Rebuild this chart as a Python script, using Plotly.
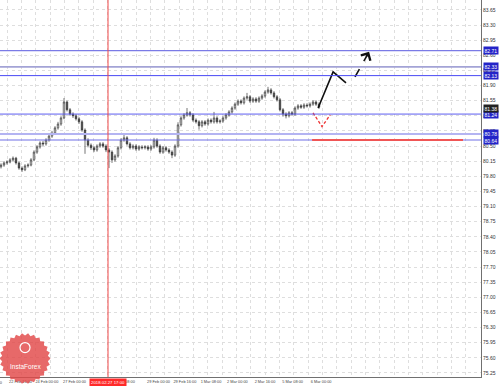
import numpy as np
import plotly.graph_objects as go

# ---------------- data ----------------
bar_index = list(range(107))
opens = [80.02, 80.06, 80.11, 80.13, 80.18, 80.22, 80.11, 79.99, 79.95, 80.04,
         80.06, 80.18, 80.36, 80.48, 80.57, 80.55, 80.64, 80.73, 80.80, 80.92,
         81.01, 81.15, 81.52, 81.34, 81.24, 81.20, 81.13, 81.06, 80.87, 80.64,
         80.52, 80.46, 80.41, 80.50, 80.55, 80.50, 80.41, 80.36, 80.18, 80.27,
         80.46, 80.64, 80.69, 80.55, 80.46, 80.50, 80.43, 80.48, 80.46, 80.48,
         80.43, 80.48, 80.64, 80.50, 80.36, 80.46, 80.41, 80.36, 80.29, 80.50,
         80.99, 81.15, 81.22, 81.27, 81.22, 81.10, 81.06, 80.97, 81.06, 81.01,
         81.10, 81.06, 81.15, 81.06, 81.08, 81.15, 81.22, 81.29, 81.38, 81.47,
         81.54, 81.50, 81.61, 81.64, 81.54, 81.59, 81.54, 81.61, 81.66, 81.75,
         81.80, 81.73, 81.64, 81.57, 81.34, 81.24, 81.20, 81.27, 81.24, 81.38,
         81.43, 81.40, 81.45, 81.43, 81.47, 81.52, 81.47]
closes = [80.06, 80.11, 80.13, 80.18, 80.22, 80.11, 79.99, 79.95, 80.04, 80.06,
          80.18, 80.36, 80.48, 80.57, 80.55, 80.64, 80.73, 80.80, 80.92, 81.01,
          81.15, 81.52, 81.34, 81.24, 81.20, 81.13, 81.06, 80.87, 80.64, 80.52,
          80.46, 80.41, 80.50, 80.55, 80.50, 80.41, 80.36, 80.18, 80.27, 80.46,
          80.64, 80.69, 80.55, 80.46, 80.50, 80.43, 80.48, 80.46, 80.48, 80.43,
          80.48, 80.64, 80.50, 80.36, 80.46, 80.41, 80.36, 80.29, 80.50, 80.99,
          81.15, 81.22, 81.27, 81.22, 81.10, 81.06, 80.97, 81.06, 81.01, 81.10,
          81.06, 81.15, 81.06, 81.08, 81.15, 81.22, 81.29, 81.38, 81.47, 81.54,
          81.50, 81.61, 81.64, 81.54, 81.59, 81.54, 81.61, 81.66, 81.75, 81.80,
          81.73, 81.64, 81.57, 81.34, 81.24, 81.20, 81.27, 81.24, 81.38, 81.43,
          81.40, 81.45, 81.43, 81.47, 81.52, 81.47, 81.40]
highs = [80.10, 80.15, 80.17, 80.22, 80.26, 80.25, 80.14, 80.03, 80.08, 80.10,
         80.22, 80.40, 80.52, 80.61, 80.62, 80.68, 80.77, 80.85, 80.96, 81.06,
         81.19, 81.61, 81.55, 81.38, 81.28, 81.24, 81.17, 81.10, 80.91, 80.68,
         80.56, 80.50, 80.54, 80.59, 80.59, 80.54, 80.45, 80.40, 80.31, 80.50,
         80.68, 80.76, 80.73, 80.59, 80.54, 80.54, 80.52, 80.52, 80.52, 80.52,
         80.52, 80.69, 80.68, 80.54, 80.50, 80.50, 80.45, 80.40, 80.54, 81.05,
         81.19, 81.26, 81.38, 81.31, 81.26, 81.14, 81.10, 81.10, 81.10, 81.14,
         81.14, 81.29, 81.19, 81.12, 81.19, 81.26, 81.33, 81.42, 81.51, 81.58,
         81.58, 81.65, 81.73, 81.68, 81.63, 81.63, 81.65, 81.70, 81.79, 81.87,
         81.84, 81.77, 81.68, 81.61, 81.38, 81.28, 81.31, 81.31, 81.42, 81.47,
         81.47, 81.49, 81.49, 81.51, 81.56, 81.56, 81.51]
lows = [79.98, 80.02, 80.07, 80.10, 80.15, 80.07, 79.95, 79.90, 79.92, 80.00,
        80.03, 80.15, 80.32, 80.44, 80.50, 80.51, 80.60, 80.69, 80.76, 80.88,
        80.97, 81.12, 81.30, 81.20, 81.15, 81.09, 81.01, 80.83, 80.32, 80.47,
        80.41, 80.36, 80.37, 80.46, 80.46, 80.36, 79.99, 80.11, 80.14, 80.23,
        80.42, 80.60, 80.51, 80.42, 80.42, 80.39, 80.39, 80.42, 80.42, 80.39,
        80.39, 80.44, 80.46, 80.32, 80.32, 80.37, 80.32, 80.22, 80.25, 80.46,
        80.95, 81.11, 81.18, 81.18, 81.06, 81.02, 80.88, 80.93, 80.97, 80.97,
        81.02, 81.02, 81.02, 81.02, 81.04, 81.11, 81.18, 81.25, 81.34, 81.43,
        81.46, 81.46, 81.57, 81.50, 81.50, 81.50, 81.50, 81.57, 81.62, 81.71,
        81.69, 81.60, 81.53, 81.30, 81.18, 81.14, 81.16, 81.20, 81.20, 81.34,
        81.36, 81.36, 81.39, 81.39, 81.43, 81.43, 81.36]

level_prices = [82.71, 82.33, 82.13, 81.24, 80.78, 80.64]
level_colors = ["#7b7be6", "#a3a3d6", "#4848f4", "#5c5cf0", "#b4b4f2", "#7070e6"]
level_widths = [1.2, 1.8, 1, 1, 2, 1]
current_price = 81.38

support_price = 80.64
support_from_bar = 103.7
support_to_bar = 154.0

event_bar = 35.67
event_label = "2018.02.27 17:00"

forecast_main_x = [105.7, 110.7, 115.0]
forecast_main_y = [81.38, 82.215, 81.96]
forecast_next_x = [118.0, 122.7]
forecast_next_y = [82.10, 82.68]
alt_x = [104.0, 107.0, 109.7]
alt_y = [81.27, 80.95, 81.22]

x_tick_pos = [6.5, 15.3, 24.5, 40.8, 52.5, 61.3, 70.0, 78.8, 88.0, 97.2, 106.7]
x_tick_text = ["22 Feb 16:00", "24 Feb 00:00", "27 Feb 00:00", "28 Feb 08:00",
               "29 Feb 00:00", "29 Feb 16:00", "1 Mar 08:00", "2 Mar 00:00",
               "2 Mar 16:00", "5 Mar 08:00", "6 Mar 00:00"]
y_tick_text = ["83.65", "83.30", "82.95", "82.60", "82.25", "81.90", "81.55",
               "81.20", "80.85", "80.50", "80.15", "79.80", "79.45", "79.10",
               "78.75", "78.40", "78.05", "77.70", "77.35", "77.00", "76.65",
               "76.30", "75.95", "75.60", "75.25"]

# ---------------- figure ----------------
FONT = "Liberation Sans, Arial, sans-serif"
X_RANGE = [-0.333, 160.0]
Y_RANGE = [75.155, 83.88]

fig = go.Figure()

fig.add_trace(go.Candlestick(
    x=bar_index, open=opens, high=highs, low=lows, close=closes,
    increasing=dict(line=dict(color="#3a3a3a", width=0.7), fillcolor="#f4f4f4"),
    decreasing=dict(line=dict(color="#3a3a3a", width=0.7), fillcolor="#3a3a3a"),
    whiskerwidth=0, showlegend=False, hoverinfo="skip"))

# forecast paths
fig.add_trace(go.Scatter(x=forecast_main_x, y=forecast_main_y, mode="lines",
                         line=dict(color="#111111", width=1.6), showlegend=False,
                         hoverinfo="skip"))
fig.add_trace(go.Scatter(x=forecast_next_x, y=forecast_next_y, mode="lines",
                         line=dict(color="#111111", width=1.6, dash="dash"),
                         showlegend=False, hoverinfo="skip"))
fig.add_trace(go.Scatter(x=alt_x, y=alt_y, mode="lines",
                         line=dict(color="#ee3333", width=1.3, dash="3px,2px"),
                         showlegend=False, hoverinfo="skip"))

shapes = []
annotations = []

# horizontal grid drawn as dotted lines at the tick levels
y_tick_vals = [float(t) for t in y_tick_text]

# horizontal levels
for p, c, w in zip(level_prices, level_colors, level_widths):
    shapes.append(dict(type="line", xref="paper", x0=0, x1=1, yref="y", y0=p, y1=p,
                       line=dict(color=c, width=w), layer="above"))
    annotations.append(dict(xref="paper", x=1, xanchor="left", xshift=2, yref="y", y=p,
                            text=f"{p:.2f}", showarrow=False, bgcolor="#2323c8",
                            font=dict(family=FONT, size=5, color="#ffffff"),
                            borderpad=0.6))

# support (red) line
shapes.append(dict(type="line", xref="x", x0=support_from_bar, x1=support_to_bar,
                   yref="y", y0=support_price, y1=support_price,
                   line=dict(color="#f05555", width=2.2), layer="above"))

# event vertical line
shapes.append(dict(type="line", xref="x", x0=event_bar, x1=event_bar, yref="paper",
                   y0=0, y1=1, line=dict(color="#f04848", width=1), layer="above"))

# current price tag
annotations.append(dict(xref="paper", x=1, xanchor="left", xshift=2, yref="y",
                        y=current_price, text=f"{current_price:.2f}", showarrow=False,
                        bgcolor="#222222", font=dict(family=FONT, size=5, color="#ffffff"),
                        borderpad=0.6))

# event label
annotations.append(dict(xref="x", x=event_bar, yref="paper", y=0, yanchor="top",
                        yshift=-0.5, text=event_label, showarrow=False,
                        bgcolor="#ff2a2a", font=dict(family=FONT, size=4.3, color="#ffffff"),
                        borderpad=1))

# tail of a clipped date label at the far left
annotations.append(dict(xref="x", x=1.2, xanchor="right", yref="paper", y=0,
                        yanchor="top", yshift=-1, text="22 Feb 00:00", showarrow=False,
                        font=dict(family=FONT, size=3.9, color="#444444")))

# arrowheads
def arrow_head(xs, ys, color, width):
    x1, y1 = xs[-1], ys[-1]
    x0, y0 = xs[-2], ys[-2]
    return dict(xref="x", yref="y", x=x1, y=y1, axref="x", ayref="y",
                ax=x1 - 0.25 * (x1 - x0), ay=y1 - 0.25 * (y1 - y0),
                showarrow=True, arrowhead=4, arrowsize=1.4, arrowwidth=width,
                arrowcolor=color, text="", standoff=0)

annotations.append(arrow_head(forecast_main_x, forecast_main_y, "#111111", 1.5))
annotations.append(arrow_head(forecast_next_x, forecast_next_y, "#111111", 1.5))
annotations.append(arrow_head(alt_x, alt_y, "#ee3333", 1.2))

# InstaForex logo (decorative seal)
cx, cy, r_out, r_in, teeth = 0.052, 0.049, 25.5, 23.0, 26
W, H = 481.0, 377.0
angs = np.linspace(0, 2 * np.pi, teeth * 2, endpoint=False)
pts = []
for k, a in enumerate(angs):
    r = r_out if k % 2 == 0 else r_in
    pts.append((cx + r * np.cos(a) / W, cy + r * np.sin(a) / H))
path = "M " + " L ".join(f"{px:.4f},{py:.4f}" for px, py in pts) + " Z"
shapes.append(dict(type="path", xref="paper", yref="paper", path=path,
                   fillcolor="rgba(226,72,72,0.82)", line=dict(width=0), layer="above"))
shapes.append(dict(type="circle", xref="paper", yref="paper",
                   x0=cx - 5 / W, x1=cx + 5 / W, y0=cy + 6 / H, y1=cy + 16 / H,
                   line=dict(color="#ffffff", width=1.2), layer="above"))
annotations.append(dict(xref="paper", yref="paper", x=cx, y=cy - 8 / H,
                        xanchor="center", yanchor="middle",
                        text="InstaForex", showarrow=False,
                        font=dict(family=FONT, size=6.5, color="#ffffff")))

fig.update_layout(
    width=499, height=386,
    margin=dict(l=0, r=18, t=0, b=9, pad=0, autoexpand=False),
    paper_bgcolor="#ffffff", plot_bgcolor="#ffffff",
    font=dict(family=FONT, size=5, color="#333333"),
    xaxis=dict(range=X_RANGE, tickmode="array", tickvals=x_tick_pos,
               ticktext=x_tick_text, tickfont=dict(size=3.9, color="#444444"),
               tickangle=0, automargin=False,
               showgrid=False, zeroline=False, showline=True, linecolor="#707070",
               linewidth=1, ticks="", rangeslider=dict(visible=False), fixedrange=True,
               minor=dict(tick0=2.1, dtick=4.777, showgrid=True, gridcolor="#dedede",
                          griddash="dot", gridwidth=1, ticks="")),
    yaxis=dict(range=Y_RANGE, side="right", tickmode="array", tickvals=y_tick_vals,
               ticktext=y_tick_text, tickfont=dict(size=5, color="#333333"),
               showgrid=True, gridcolor="#dedede", griddash="dot", gridwidth=1,
               zeroline=False, showline=True, linecolor="#707070", linewidth=1,
               ticks="", fixedrange=True, automargin=False,
               showspikes=False),
    hovermode=False,
    shapes=shapes, annotations=annotations, showlegend=False,
)

fig.write_html("out.html", config={"displayModeBar": False})
